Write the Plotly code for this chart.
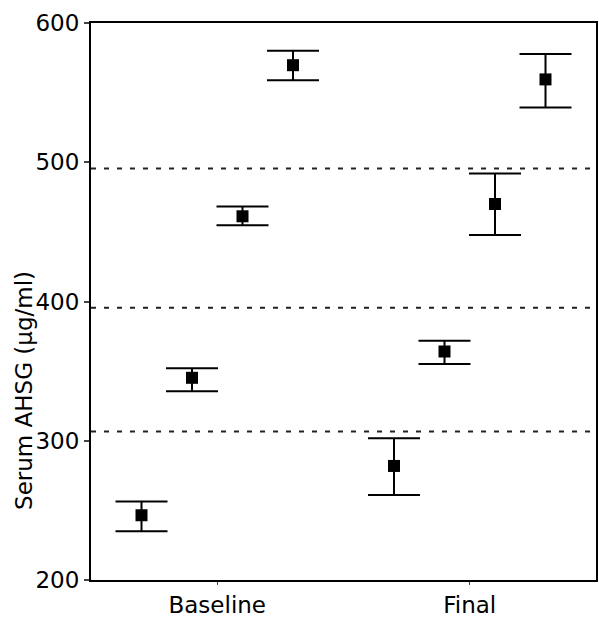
import plotly.graph_objects as go

groups = ["Baseline", "Final"]
offsets = [-0.3, -0.1, 0.1, 0.3]
baseline_mean = [246.5, 345.2, 461.2, 569.7]
baseline_upper = [256.4, 352.0, 468.3, 580.1]
baseline_lower = [235.0, 335.6, 454.8, 558.8]
final_mean = [281.9, 364.1, 470.0, 559.5]
final_upper = [301.8, 371.9, 492.0, 577.8]
final_lower = [261.1, 355.1, 447.8, 539.4]
cutoffs = [306.6, 395.6, 495.6]
y_ticks = [200, 300, 400, 500, 600]
y_title = "Serum AHSG (μg/ml)"

FONT = "DejaVu Sans, Arial, sans-serif"

fig = go.Figure()

for gi, (means, ups, lows) in enumerate([(baseline_mean, baseline_upper, baseline_lower),
                                          (final_mean, final_upper, final_lower)]):
    xs = [gi + o for o in offsets]
    fig.add_trace(go.Scatter(
        x=xs, y=means, mode="markers",
        marker=dict(symbol="square", size=12, color="black"),
        error_y=dict(type="data", symmetric=False,
                     array=[u - m for u, m in zip(ups, means)],
                     arrayminus=[m - l for m, l in zip(means, lows)],
                     color="black", thickness=2, width=26),
        showlegend=False, hoverinfo="skip"))

for c in cutoffs:
    fig.add_shape(type="line", xref="paper", x0=0, x1=1, yref="y", y0=c, y1=c,
                  line=dict(color="#222222", width=2, dash="5px,8px"), layer="below")

fig.add_annotation(text=y_title, textangle=-90, xref="paper", yref="paper",
                   x=-0.134, y=0.34, xanchor="center", yanchor="middle",
                   showarrow=False, font=dict(size=23, family=FONT, color="black"))

fig.update_layout(
    width=599, height=619,
    margin=dict(l=91, r=1, t=23, b=33),
    plot_bgcolor="white", paper_bgcolor="white",
    font=dict(family=FONT, color="black"),
    xaxis=dict(range=[-0.5, 1.5], tickvals=[0, 1], ticktext=groups,
               showgrid=False, zeroline=False, showline=True, linecolor="black",
               linewidth=2, mirror=True, ticks="outside", ticklen=3, tickwidth=1,
               tickfont=dict(size=23, family=FONT)),
    yaxis=dict(range=[200, 600], tickvals=y_ticks,
               showgrid=False, zeroline=False, showline=True, linecolor="black",
               linewidth=2, mirror=True, ticks="outside", ticklen=5, tickwidth=2,
               tickfont=dict(size=23, family=FONT)),
)

fig.write_html("out.html")
